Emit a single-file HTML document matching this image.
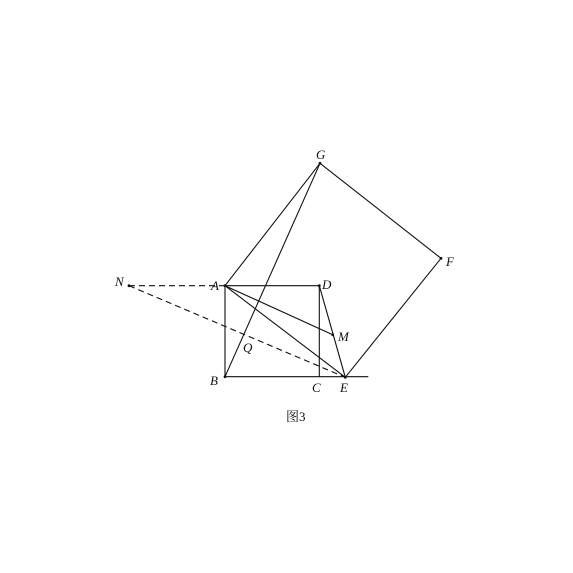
<!DOCTYPE html>
<html><head><meta charset="utf-8"><style>
html,body{margin:0;padding:0;background:#fff;}
svg{display:block;}
text{font-family:"Liberation Serif","Noto Serif CJK SC",serif;font-style:italic;font-size:13px;fill:#111;}
</style></head><body>
<svg width="573" height="573" viewBox="0 0 573 573">
<g stroke="#111" stroke-width="1.1" fill="none">
<line x1="320" y1="163.3" x2="225" y2="285.7"/>
<line x1="320" y1="163.3" x2="441" y2="258.3"/>
<line x1="441" y1="258.3" x2="345.3" y2="377.3"/>
<line x1="320" y1="163.3" x2="225" y2="376.7"/>
<line x1="225" y1="285.7" x2="319.3" y2="285.7"/>
<line x1="225" y1="285.7" x2="225" y2="376.7"/>
<line x1="225" y1="376.7" x2="368.3" y2="376.7"/>
<line x1="319.3" y1="285.7" x2="319.3" y2="376.7"/>
<line x1="319.3" y1="285.7" x2="345.3" y2="377.3"/>
<line x1="225" y1="285.7" x2="332.7" y2="334.7"/>
<line x1="225" y1="285.7" x2="345.3" y2="377.3"/>
<line x1="129" y1="285.7" x2="225" y2="285.7" stroke-dasharray="6,4"/>
<line x1="129" y1="285.7" x2="345.3" y2="377.3" stroke-dasharray="6,4"/>
</g>
<g fill="#111">
<circle cx="320" cy="163.3" r="1.4"/><circle cx="441" cy="258.3" r="1.4"/>
<circle cx="225" cy="285.7" r="1.4"/><circle cx="319.3" cy="285.7" r="1.4"/>
<circle cx="129" cy="285.7" r="1.4"/><circle cx="332.7" cy="334.7" r="1.4"/>
<circle cx="225" cy="376.7" r="1.4"/><circle cx="345.3" cy="377.3" r="1.4"/>
</g>
<text x="316" y="159">G</text>
<text x="446" y="266">F</text>
<text x="115" y="286">N</text>
<text x="211" y="290">A</text>
<text x="322" y="289">D</text>
<text x="338" y="341">M</text>
<text x="243" y="352">Q</text>
<text x="210" y="385">B</text>
<text x="312" y="392">C</text>
<text x="340" y="392">E</text>
<text x="286" y="421" style="font-style:normal;font-size:13px;">图3</text>
</svg>
</body></html>
